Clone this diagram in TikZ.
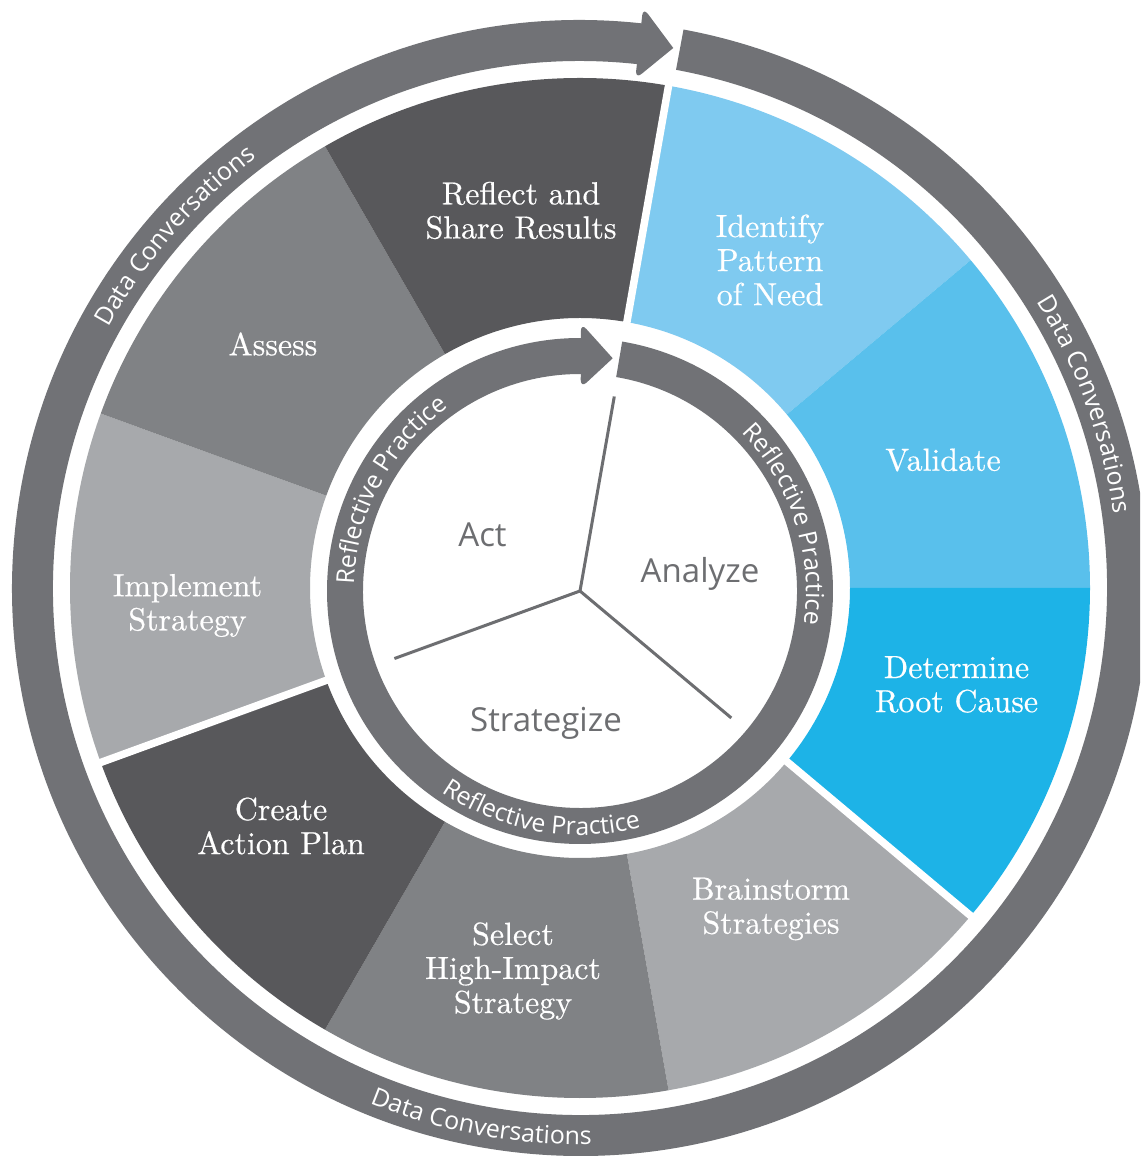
\documentclass[tikz,border=0pt]{standalone}
\usepackage{fontspec}
\newfontfamily\osans{Open Sans}
\newfontfamily\segserif[FakeBold=0.5]{lmroman10-regular.otf}
\usetikzlibrary{decorations.text}
\definecolor{ringgray}{HTML}{717276}
\definecolor{darkseg}{HTML}{58585B}
\definecolor{midseg}{HTML}{808285}
\definecolor{lightseg}{HTML}{A7A9AC}
\definecolor{blueA}{HTML}{7FCAF0}
\definecolor{blueB}{HTML}{59C0EC}
\definecolor{blueC}{HTML}{1DB3E7}
\definecolor{textgray}{HTML}{6D6E71}
\newcommand{\ringfont}{\osans\fontsize{14.2}{14.2}\selectfont\color{white}}
\newcommand{\innerfont}{\osans\fontsize{14.1}{14.1}\selectfont\color{white}}
\tikzset{
  seglab/.style={text=white, align=center, inner sep=0pt, font=\segserif\fontsize{18.2}{19.4}\selectfont},
  corelab/.style={text=textgray, inner sep=0pt, font=\osans\fontsize{18.8}{20}\selectfont},
  spoke/.style={draw=textgray, line width=0.06cm},
  gapline/.style={draw=white, line width=0.15cm},
  ringfill/.style={fill=ringgray}
}
\begin{document}
\begin{tikzpicture}
\useasboundingbox (0,0) rectangle (22.8,23.12);
\clip (0,0) rectangle (22.8,23.12);
\fill[white] (0,0) rectangle (22.8,23.12);
\coordinate (oc) at (11.6,11.36);
\coordinate (ic) at (11.6,11.3);

% sectors
\foreach \a/\b/\c in {80/40/blueA, 40/0/blueB, 0/-40/blueC, -40/-80/lightseg, -80/-120/midseg, -120/-160/darkseg, -160/-200/lightseg, 160/120/midseg, 120/80/darkseg}
  \fill[\c] ([shift={(\a:5.4)}]oc) arc[start angle=\a, end angle=\b, radius=5.4]
     -- ([shift={(\b:10.2)}]oc) arc[start angle=\b, end angle=\a, radius=10.2] -- cycle;
\foreach \a in {80,-40,-160}
  \draw[gapline] ([shift={(\a:5.2)}]oc) -- ([shift={(\a:10.4)}]oc);

% outer ring with arrow
\fill[ringfill] ([shift={(79.5:10.54)}]oc) arc[start angle=79.5, end angle=-276.3, radius=10.54]
   -- ([shift={(-276.3:11.36)}]oc) arc[start angle=-276.3, end angle=79.5, radius=11.36] -- cycle;
\coordinate (otip) at ([shift={(80.2:10.96)}]oc);
\coordinate (otop) at ([shift={(83.8:11.68)}]oc);
\coordinate (obot) at ([shift={(83.8:10.24)}]oc);
\fill[ringfill] (otip) [rounded corners=0.16cm] -- (otop) -- (obot) [sharp corners] -- cycle;

% inner ring with arrow
\fill[ringfill] ([shift={(80.4:4.34)}]ic) arc[start angle=80.4, end angle=-270.3, radius=4.34]
   -- ([shift={(-270.3:5.06)}]ic) arc[start angle=-270.3, end angle=80.4, radius=5.06] -- cycle;
\coordinate (itip) at ([shift={(82:4.70)}]ic);
\coordinate (itop) at ([shift={(89.8:5.36)}]ic);
\coordinate (ibot) at ([shift={(89.8:4.06)}]ic);
\fill[ringfill] (itip) [rounded corners=0.16cm] -- (itop) -- (ibot) [sharp corners] -- cycle;

% spokes
\coordinate (s1) at ([shift={(80:3.95)}]ic);
\coordinate (s2) at ([shift={(-40:3.95)}]ic);
\coordinate (s3) at ([shift={(-160:3.95)}]ic);
\draw[spoke] (ic) -- (s1);
\draw[spoke] (ic) -- (s2);
\draw[spoke] (ic) -- (s3);

% ring texts
\path[decorate, decoration={text along path, text align=center, text={|\ringfont|Data Conversations}}]
  ([shift={(169:10.77)}]oc) arc[start angle=169, end angle=109, radius=10.77];
\path[decorate, decoration={text along path, text align=center, text={|\ringfont|Data Conversations}}]
  ([shift={(50:10.77)}]oc) arc[start angle=50, end angle=-10, radius=10.77];
\path[decorate, decoration={text along path, text align=center, text={|\ringfont|Data Conversations}}]
  ([shift={(-130.5:11.13)}]oc) arc[start angle=-130.5, end angle=-70.5, radius=11.13];
\path[decorate, decoration={text along path, text align=center, text={|\innerfont|Reflective Practice}}]
  ([shift={(192:4.52)}]ic) arc[start angle=192, end angle=112, radius=4.52];
\path[decorate, decoration={text along path, text align=center, text={|\innerfont|Reflective Practice}}]
  ([shift={(58:4.52)}]ic) arc[start angle=58, end angle=-22, radius=4.52];
\path[decorate, decoration={text along path, text align=center, text={|\innerfont|Reflective Practice}}]
  ([shift={(-140:4.88)}]ic) arc[start angle=-140, end angle=-60, radius=4.88];

% sector labels
\node[seglab] (reflect) at (10.42,18.91) {Reflect and\\Share Results};
\node[seglab] (identify) at (15.40,17.92) {Identify\\Pattern\\of Need};
\node[seglab] (assess) at (5.46,16.24) {Assess};
\node[seglab] (validate) at (18.86,13.92) {Validate};
\node[seglab] (implement) at (3.75,11.01) {Implement\\Strategy};
\node[seglab] (determine) at (19.13,9.43) {Determine\\Root Cause};
\node[seglab] (create) at (5.62,6.6) {Create\\Action Plan};
\node[seglab] (brainstorm) at (15.42,4.94) {Brainstorm\\Strategies};
\node[seglab] (select) at (10.26,3.7) {Select\\High-Impact\\Strategy};

% core labels
\node[corelab] (act) at (9.65,12.42) {Act};
\node[corelab] (analyze) at (14.0,11.65) {Analyze};
\node[corelab] (strategize) at (10.92,8.66) {Strategize};
\end{tikzpicture}
\end{document}
